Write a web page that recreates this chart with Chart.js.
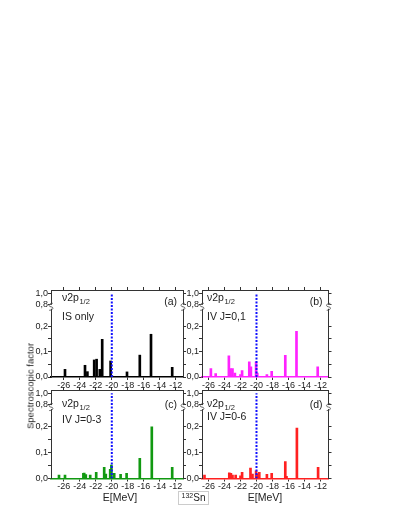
<!DOCTYPE html>
<html>
<head>
<meta charset="utf-8">
<script src="https://cdn.jsdelivr.net/npm/chart.js@4.4.0/dist/chart.umd.min.js"></script>
<style>
  body { margin: 0; background: #fff; }
  #wrap { position: relative; width: 400px; height: 517px; overflow: hidden; font-family: "Liberation Sans", Arial, sans-serif; color: #222; }
  canvas { position: absolute; }
  .ytitle { position: absolute; left: 30px; top: 386px; font-size: 9.5px; white-space: nowrap; transform: translate(-50%, -50%) rotate(-90deg); }
  .xtitle { position: absolute; top: 497px; font-size: 10.5px; transform: translate(-50%, -50%); white-space: nowrap; }
  .nucleus { position: absolute; left: 178px; top: 491px; width: 29px; height: 12px; border: 1px solid #ccc; font-size: 10px; line-height: 12px; text-align: center; }
  .nucleus sup { font-size: 7px; vertical-align: 3px; line-height: 0; }
</style>
</head>
<body>
<div id="wrap">
  <canvas id="chartA" style="left:20px;top:282px" width="175" height="110"></canvas>
  <canvas id="chartB" style="left:170px;top:282px" width="175" height="110"></canvas>
  <canvas id="chartC" style="left:20px;top:382px" width="175" height="112"></canvas>
  <canvas id="chartD" style="left:170px;top:382px" width="175" height="112"></canvas>
  <div class="ytitle">Spectroscopic factor</div>
  <div class="xtitle" style="left:120px">E[MeV]</div>
  <div class="xtitle" style="left:265px">E[MeV]</div>
  <div class="nucleus"><sup>132</sup>Sn</div>
</div>
<script>
// energies (MeV) and spectroscopic factors
const energiesA = [-25.85, -23.35, -23.05, -22.2, -21.9, -21.5, -21.35, -21.2, -20.15, -20.0, -18.1, -16.5, -15.1, -12.45];
const factorsA  = [0.030, 0.046, 0.021, 0.067, 0.070, 0.030, 0.025, 0.148, 0.063, 0.005, 0.020, 0.086, 0.168, 0.038];

const energiesB = [-25.7, -25.1, -23.45, -23.25, -23.0, -22.7, -22.0, -21.8, -20.9, -20.7, -20.05, -19.9, -18.7, -18.1, -16.4, -15.0, -12.35];
const factorsB  = [0.033, 0.013, 0.083, 0.033, 0.033, 0.015, 0.010, 0.025, 0.060, 0.040, 0.060, 0.015, 0.010, 0.022, 0.085, 0.180, 0.040];

const energiesC = [-26.6, -25.85, -23.55, -23.45, -23.25, -22.7, -21.95, -20.95, -20.75, -20.2, -20.05, -19.7, -18.9, -18.15, -16.5, -15.0, -12.45];
const factorsC  = [0.013, 0.013, 0.020, 0.021, 0.015, 0.013, 0.024, 0.043, 0.017, 0.035, 0.052, 0.020, 0.016, 0.020, 0.078, 0.200, 0.043];

const energiesD = [-26.5, -23.4, -23.2, -23.0, -22.6, -22.0, -21.8, -20.75, -20.5, -20.05, -19.9, -19.65, -18.7, -18.1, -16.4, -16.25, -14.95, -12.3];
const factorsD  = [0.013, 0.022, 0.020, 0.013, 0.013, 0.010, 0.024, 0.040, 0.017, 0.030, 0.017, 0.024, 0.016, 0.020, 0.065, 0.008, 0.195, 0.043];

const fermiEnergy = -20;
const panelTags = ["(a)", "(b)", "(c)", "(d)"];
const panelNotes = ["IS only", "IV J=0,1", "IV J=0-3", "IV J=0-6"];
const xTickValues = [-26, -24, -22, -20, -18, -16, -14, -12];
const yTickValues = [0, 0.1, 0.2, 0.8, 1.0];
const yTickLabels = ["0,0", "0,1", "0,2", "0,8", "1,0"];
const yMinorValues = [0.05, 0.15];

Chart.defaults.font.family = '"Liberation Sans", Arial, sans-serif';

// broken y axis: 0..0.2 linear, 0.8..1.0 squeezed on top
function axisY(v) {
  return v <= 0.25 ? v : 0.286 + (v - 0.8) * 0.215;
}

function drawBreak(ctx, x, y) {
  ctx.save();
  ctx.fillStyle = "#fff";
  ctx.fillRect(x - 2, y - 2, 4, 4);
  ctx.strokeStyle = "#444";
  ctx.lineWidth = 0.8;
  ctx.beginPath();
  ctx.moveTo(x + 1.8, y - 3.5);
  ctx.bezierCurveTo(x - 2.8, y - 3.5, x - 2.8, y, x, y);
  ctx.bezierCurveTo(x + 2.8, y, x + 2.8, y + 3.5, x - 1.8, y + 3.5);
  ctx.stroke();
  ctx.restore();
}

const decor = {
  id: "decor",
  afterDraw(chart, args, o) {
    const ctx = chart.ctx;
    const a = chart.chartArea;
    const yb = chart.scales.y.getPixelForValue(0.276);
    drawBreak(ctx, a.left, yb);
    drawBreak(ctx, a.right, yb);

    ctx.save();
    ctx.fillStyle = "#222";
    ctx.textBaseline = "alphabetic";
    ctx.font = '10.5px "Liberation Sans", Arial, sans-serif';
    const tx = a.left + o.dx;
    ctx.fillText("\u03bd2p", tx, a.top + o.titleY);
    const w = ctx.measureText("\u03bd2p").width;
    ctx.fillText(o.note, tx, a.top + o.noteY);
    ctx.textAlign = "right";
    ctx.fillText(o.tag, a.right - 6, a.top + o.tagY);
    ctx.textAlign = "left";
    ctx.font = '7.5px "Liberation Sans", Arial, sans-serif';
    ctx.fillText("1/2", tx + w + 0.5, a.top + o.titleY + 2.5);
    ctx.restore();
  }
};

function makePanel(id, energies, factors, color, lay, idx) {
  const bars = energies.map((e, i) => ({ x: e, y: factors[i] }));
  const frame = "#333";
  const tickFont = { size: 9 };
  const yTicks = yTickValues.concat(yMinorValues).map(v => ({ value: axisY(v) }));
  const yMax = 0.342;
  return new Chart(document.getElementById(id), {
    type: "bar",
    data: {
      datasets: [
        {
          type: "line",
          data: [{ x: fermiEnergy, y: 0 }, { x: fermiEnergy, y: axisY(1.0) }],
          borderColor: "#1010ff",
          borderWidth: 2,
          borderDash: [2, 1.5],
          pointRadius: 0,
          order: 0
        },
        {
          data: bars,
          backgroundColor: color,
          borderWidth: 0,
          barThickness: 2,
          order: 1
        }
      ]
    },
    options: {
      responsive: false,
      animation: false,
      layout: { padding: { top: 4, right: lay.padRight, left: 0, bottom: 0 } },
      plugins: {
        legend: { display: false },
        tooltip: { enabled: false },
        decor: { dx: lay.dx, titleY: lay.titleY, noteY: lay.noteY, tagY: lay.tagY, note: panelNotes[idx], tag: panelTags[idx] }
      },
      scales: {
        x: {
          type: "linear", min: lay.xMin, max: lay.xMax, offset: false,
          grid: { offset: false, drawOnChartArea: false, tickLength: 3, color: frame },
          border: { color: color, width: 1.5 },
          ticks: { font: tickFont, color: "#222", padding: 0, autoSkip: false, maxRotation: 0, callback: v => String(v) },
          afterBuildTicks: s => { s.ticks = xTickValues.map(v => ({ value: v })); },
          afterFit: s => { s.height = lay.bottomH; }
        },
        x2: {
          type: "linear", position: "top", min: lay.xMin, max: lay.xMax, offset: false,
          grid: { offset: false, drawOnChartArea: false, tickLength: 3, color: frame },
          border: { color: frame, width: 1 },
          ticks: { display: false },
          afterBuildTicks: s => { s.ticks = xTickValues.map(v => ({ value: v })); },
          afterFit: s => { s.height = 4; }
        },
        y: {
          min: 0, max: yMax,
          grid: { drawOnChartArea: false, tickLength: 3, color: frame },
          border: { color: frame, width: 1 },
          ticks: {
            font: tickFont, color: "#222", padding: 0, autoSkip: false,
            callback: value => {
              const i = yTickValues.findIndex(v => Math.abs(axisY(v) - value) < 1e-6);
              return i >= 0 ? yTickLabels[i] : "";
            }
          },
          afterBuildTicks: s => { s.ticks = yTicks.map(t => ({ value: t.value })); },
          afterFit: s => { s.width = lay.leftW; }
        },
        y2: {
          position: "right", min: 0, max: yMax,
          grid: { drawOnChartArea: false, tickLength: 3, color: frame },
          border: { color: frame, width: 1 },
          ticks: { display: false },
          afterBuildTicks: s => { s.ticks = yTicks.map(t => ({ value: t.value })); },
          afterFit: s => { s.width = 4; }
        }
      }
    },
    plugins: [decor]
  });
}

const leftLay = { xMin: -27.6, xMax: -11.1, leftW: 31, padRight: 8 };
const rightLay = { xMin: -26.81, xMax: -11.0, leftW: 32, padRight: 12.5 };

makePanel("chartA", energiesA, factorsA, "#000000",
  Object.assign({}, leftLay, { bottomH: 15, dx: 11, titleY: 11, noteY: 30, tagY: 15 }), 0);
makePanel("chartB", energiesB, factorsB, "#ff22ff",
  Object.assign({}, rightLay, { bottomH: 15, dx: 5, titleY: 11, noteY: 30, tagY: 15 }), 1);
makePanel("chartC", energiesC, factorsC, "#119911",
  Object.assign({}, leftLay, { bottomH: 15.5, dx: 11, titleY: 17, noteY: 33, tagY: 18 }), 2);
makePanel("chartD", energiesD, factorsD, "#ff2020",
  Object.assign({}, rightLay, { bottomH: 15.5, dx: 5, titleY: 17, noteY: 30, tagY: 18 }), 3);
</script>
</body>
</html>
